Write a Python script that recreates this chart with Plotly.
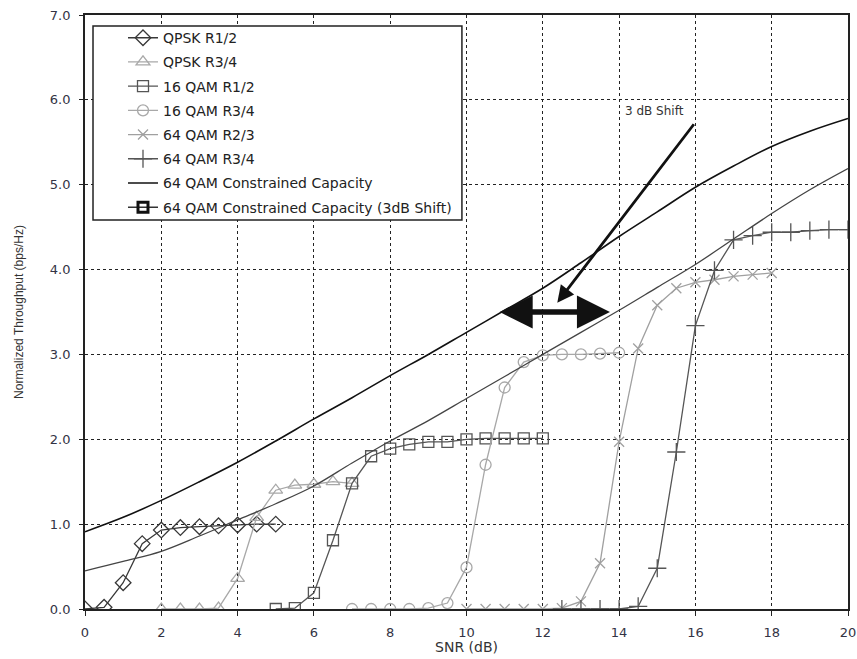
import plotly.graph_objects as go

# ---------------- data ----------------
snr_cap = list(range(0, 21))
cap_64qam = [0.91, 1.08, 1.28, 1.50, 1.73, 1.98, 2.24, 2.49, 2.75, 3.00, 3.26,
             3.52, 3.78, 4.08, 4.39, 4.68, 4.97, 5.22, 5.45, 5.63, 5.78]
cap_64qam_shift = [0.45, 0.56, 0.68, 0.86, 1.05, 1.24, 1.45, 1.72, 1.98, 2.22, 2.48,
                   2.74, 3.00, 3.26, 3.52, 3.79, 4.06, 4.36, 4.66, 4.94, 5.19]

qpsk_12_x = [0, 0.5, 1, 1.5, 2, 2.5, 3, 3.5, 4, 4.5, 5]
qpsk_12_y = [0.0, 0.02, 0.31, 0.77, 0.93, 0.96, 0.97, 0.98, 0.99, 1.0, 1.0]

qpsk_34_x = [2, 2.5, 3, 3.5, 4, 4.5, 5, 5.5, 6, 6.5, 7]
qpsk_34_y = [0.0, 0.0, 0.0, 0.01, 0.36, 1.08, 1.40, 1.46, 1.47, 1.50, 1.48]

qam16_12_x = [5, 5.5, 6, 6.5, 7, 7.5, 8, 8.5, 9, 9.5, 10, 10.5, 11, 11.5, 12]
qam16_12_y = [0.0, 0.01, 0.19, 0.81, 1.48, 1.80, 1.89, 1.94, 1.97, 1.97, 2.0, 2.01, 2.01, 2.01, 2.01]

qam16_34_x = [7, 7.5, 8, 8.5, 9, 9.5, 10, 10.5, 11, 11.5, 12, 12.5, 13, 13.5, 14]
qam16_34_y = [0.0, 0.0, 0.0, 0.0, 0.01, 0.07, 0.49, 1.70, 2.61, 2.91, 2.99, 3.0, 3.0, 3.01, 3.02]

qam64_23_x = [10, 10.5, 11, 11.5, 12, 12.5, 13, 13.5, 14, 14.5, 15, 15.5, 16, 16.5, 17, 17.5, 18]
qam64_23_y = [0.0, 0.0, 0.0, 0.0, 0.0, 0.01, 0.09, 0.54, 1.97, 3.07, 3.58, 3.78, 3.85, 3.88, 3.92, 3.94, 3.96]

qam64_34_x = [12.5, 13, 13.5, 14, 14.5, 15, 15.5, 16, 16.5, 17, 17.5, 18, 18.5, 19, 19.5, 20]
qam64_34_y = [0.0, 0.0, 0.0, 0.0, 0.03, 0.48, 1.85, 3.34, 3.99, 4.35, 4.40, 4.44, 4.44, 4.46, 4.47, 4.47]

x_ticks = list(range(0, 21, 2))
y_ticks = [0, 1, 2, 3, 4, 5, 6, 7]
y_tick_labels = ["0.0", "1.0", "2.0", "3.0", "4.0", "5.0", "6.0", "7.0"]

# ---------------- figure ----------------
FONT = "DejaVu Sans, Verdana, sans-serif"
NARROW = "Liberation Sans Narrow, Liberation Sans, Arial, sans-serif"
fig = go.Figure()

def add_series(name, x, y, color, symbol, size, group):
    fig.add_trace(go.Scatter(
        x=x, y=y, name=name, mode="lines+markers", legendgroup=group,
        line=dict(color=color, width=1.3),
        marker=dict(symbol=symbol, size=size, color=color,
                    line=dict(color=color, width=1.3)),
    ))

add_series("QPSK R1/2", qpsk_12_x, qpsk_12_y, "#383838", "diamond-open", 12, "a")
add_series("QPSK R3/4", qpsk_34_x, qpsk_34_y, "#a8a8a8", "triangle-up-open", 12, "b")
add_series("16 QAM R1/2", qam16_12_x, qam16_12_y, "#555555", "square-open", 11, "c")
add_series("16 QAM R3/4", qam16_34_x, qam16_34_y, "#a8a8a8", "circle-open", 11, "d")
add_series("64 QAM R2/3", qam64_23_x, qam64_23_y, "#a0a0a0", "x-thin-open", 10, "e")
add_series("64 QAM R3/4", qam64_34_x, qam64_34_y, "#555555", "cross-thin-open", 13, "f")

fig.add_trace(go.Scatter(
    x=snr_cap, y=cap_64qam, name="64 QAM Constrained Capacity", mode="lines",
    legendgroup="g", line=dict(color="#111111", width=1.6, shape="spline"),
))
fig.add_trace(go.Scatter(
    x=snr_cap, y=cap_64qam_shift, name="64 QAM Constrained Capacity (3dB Shift)",
    mode="lines", legendgroup="h", showlegend=False,
    line=dict(color="#444444", width=1.3, shape="spline"),
))
# legend entry for the shifted curve (marker shown only in legend)
fig.add_trace(go.Scatter(
    x=[None], y=[None], name="64 QAM Constrained Capacity (3dB Shift)",
    mode="lines+markers", legendgroup="h",
    line=dict(color="#333333", width=1.5),
    marker=dict(symbol="square-open", size=10, color="#111111",
                line=dict(color="#111111", width=3)),
))

# annotations
fig.add_annotation(x=14.94, y=5.87, text="3 dB Shift", showarrow=False,
                   font=dict(family=FONT, size=12, color="#333333"))
fig.add_annotation(x=12.38, y=3.61, ax=15.99, ay=5.73, axref="x", ayref="y",
                   xref="x", yref="y", text="", showarrow=True,
                   arrowhead=2, arrowsize=1.2, arrowwidth=2.8, arrowcolor="#111111")
fig.add_annotation(x=13.76, y=3.50, ax=10.83, ay=3.50, axref="x", ayref="y",
                   xref="x", yref="y", text="", showarrow=True,
                   arrowhead=2, startarrowhead=2, arrowside="end+start",
                   arrowsize=1.2, startarrowsize=1.2, arrowwidth=5.5, arrowcolor="#111111")

# legend frame (opaque box behind the legend entries)
fig.add_shape(type="rect", xref="paper", yref="paper",
              x0=0.0105, x1=0.494, y0=0.655, y1=0.9815,
              fillcolor="white", line=dict(color="#222222", width=1.5),
              layer="above")

fig.update_layout(
    width=857, height=659,
    margin=dict(l=85, r=9, t=15, b=50),
    paper_bgcolor="white", plot_bgcolor="white",
    font=dict(family=FONT, size=12, color="#333333"),
    showlegend=True,
    legend=dict(
        x=0.0498, y=0.988, xanchor="left", yanchor="top",
        bgcolor="rgba(0,0,0,0)", borderwidth=0,
        font=dict(family=FONT, size=14, color="#222222"),
        tracegroupgap=3, traceorder="grouped",
    ),
    xaxis=dict(
        range=[0, 20], tickvals=x_ticks, ticks="outside", ticklen=5,
        tickcolor="#222222", showgrid=True, gridcolor="#222222", griddash="dot",
        gridwidth=1.3, showline=True, linecolor="#222222", linewidth=1.8,
        mirror=True, zeroline=False, automargin=False, ticklabelstandoff=5,
        title=dict(text="SNR (dB)", font=dict(family=FONT, size=14), standoff=4),
        tickfont=dict(family=FONT, size=13, color="#333344"),
    ),
    yaxis=dict(
        range=[0, 7], tickvals=y_ticks, ticktext=y_tick_labels, ticks="outside",
        ticklen=4, tickcolor="#222222", showgrid=True, gridcolor="#222222",
        griddash="dot", gridwidth=1.3, showline=True, linecolor="#222222",
        linewidth=1.8, mirror=True, zeroline=False, automargin=False,
        ticklabelstandoff=6,
        title=dict(text="Normalized Throughput (bps/Hz)",
                   font=dict(family=NARROW, size=12), standoff=24),
        tickfont=dict(family=FONT, size=13, color="#333344"),
    ),
)

fig.write_html(
    "out.html",
    config={"displayModeBar": False},
    post_script="document.body.style.margin='0';document.body.style.overflow='hidden';",
)
